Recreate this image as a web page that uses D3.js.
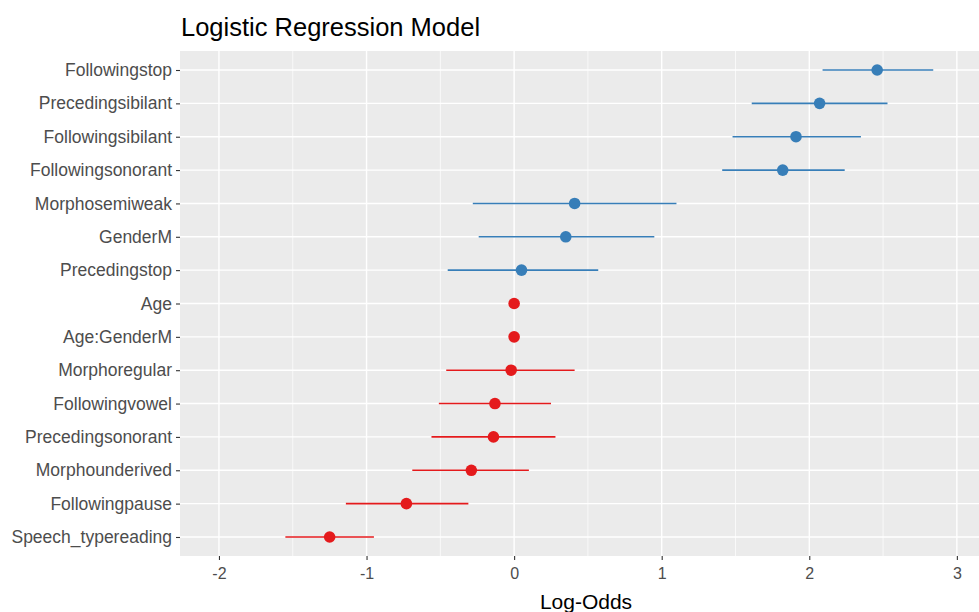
<!DOCTYPE html>
<html>
<head>
<meta charset="utf-8">
<script src="https://cdn.jsdelivr.net/npm/d3@7"></script>
<style>
  body { margin: 0; background: #fff; }
  svg { display: block; font-family: "Liberation Sans", Arial, sans-serif; }
</style>
</head>
<body>
<svg id="chart" width="979" height="612"></svg>
<script>
// terms, top to bottom
const terms = ["Followingstop", "Precedingsibilant", "Followingsibilant", "Followingsonorant",
  "Morphosemiweak", "GenderM", "Precedingstop", "Age", "Age:GenderM", "Morphoregular",
  "Followingvowel", "Precedingsonorant", "Morphounderived", "Followingpause", "Speech_typereading"];
const estimates = [2.46, 2.07, 1.91, 1.82, 0.41, 0.35, 0.05, 0.0, 0.0, -0.02, -0.13, -0.14, -0.29, -0.73, -1.25];
const lower = [2.09, 1.61, 1.48, 1.41, -0.28, -0.24, -0.45, -0.003, -0.003, -0.46, -0.51, -0.56, -0.69, -1.14, -1.55];
const upper = [2.84, 2.53, 2.35, 2.24, 1.10, 0.95, 0.57, 0.003, 0.003, 0.41, 0.25, 0.28, 0.10, -0.31, -0.95];
const xTicks = [-2, -1, 0, 1, 2, 3];

const svg = d3.select("#chart");
const panel = {left: 180, top: 51, right: 979, bottom: 556};

let x = d3.scaleLinear().domain([-2.264, 3.15]).range([panel.left, panel.right]);
let y = d3.scalePoint().domain(terms).range([panel.top, panel.bottom]).padding(0.57);

// background
svg.append("rect")
    .attr("x", panel.left).attr("y", panel.top)
    .attr("width", panel.right - panel.left).attr("height", panel.bottom - panel.top)
    .attr("fill", "#EBEBEB");

// minor grid
let minor = d3.range(-1.5, 3.5, 1);
svg.append("g").selectAll("line").data(minor).join("line")
    .attr("x1", d => x(d)).attr("x2", d => x(d))
    .attr("y1", panel.top).attr("y2", panel.bottom)
    .attr("stroke", "#fff").attr("stroke-width", 0.7);

// major grid
svg.append("g").selectAll("line").data(xTicks).join("line")
    .attr("x1", d => x(d)).attr("x2", d => x(d))
    .attr("y1", panel.top).attr("y2", panel.bottom)
    .attr("stroke", "#fff").attr("stroke-width", 1.4);
svg.append("g").selectAll("line").data(terms).join("line")
    .attr("x1", panel.left).attr("x2", panel.right)
    .attr("y1", d => y(d)).attr("y2", d => y(d))
    .attr("stroke", "#fff").attr("stroke-width", 1.4);

// axes
let xAxis = svg.append("g")
    .attr("transform", `translate(0,${panel.bottom})`)
    .call(d3.axisBottom(x).tickValues(xTicks).tickSize(4).tickPadding(5)
        .tickFormat(d => String(d)));
let yAxis = svg.append("g")
    .attr("transform", `translate(${panel.left},0)`)
    .call(d3.axisLeft(y).tickSize(4).tickPadding(4));
[xAxis, yAxis].forEach(function (a) {
    a.select(".domain").remove();
    a.selectAll(".tick line").attr("stroke", "#333").attr("stroke-width", 1.1);
    a.selectAll(".tick text").attr("fill", "#4D4D4D");
});
xAxis.selectAll(".tick text").style("font-size", "16px").attr("dy", "0.85em");
yAxis.selectAll(".tick text").style("font-size", "17.5px");

// error bars and points
let rows = terms.map((t, i) => ({term: t, est: estimates[i], lo: lower[i], hi: upper[i]}));
let color = d => d.est > 0.001 ? "#377EB8" : "#E41A1C";

svg.append("g").selectAll("line").data(rows).join("line")
    .attr("x1", d => x(d.lo)).attr("x2", d => x(d.hi))
    .attr("y1", d => y(d.term)).attr("y2", d => y(d.term))
    .attr("stroke", color).attr("stroke-width", 1.6);

svg.append("g").selectAll("circle").data(rows).join("circle")
    .attr("cx", d => x(d.est)).attr("cy", d => y(d.term))
    .attr("r", 5.8)
    .attr("fill", color);

// title and axis title
svg.append("text")
    .attr("x", 181).attr("y", 36)
    .attr("fill", "#000")
    .style("font-size", "25.5px")
    .text("Logistic Regression Model");

svg.append("text")
    .attr("x", 586).attr("y", 609)
    .attr("text-anchor", "middle")
    .attr("fill", "#000")
    .style("font-size", "21px")
    .text("Log-Odds");
</script>
</body>
</html>
